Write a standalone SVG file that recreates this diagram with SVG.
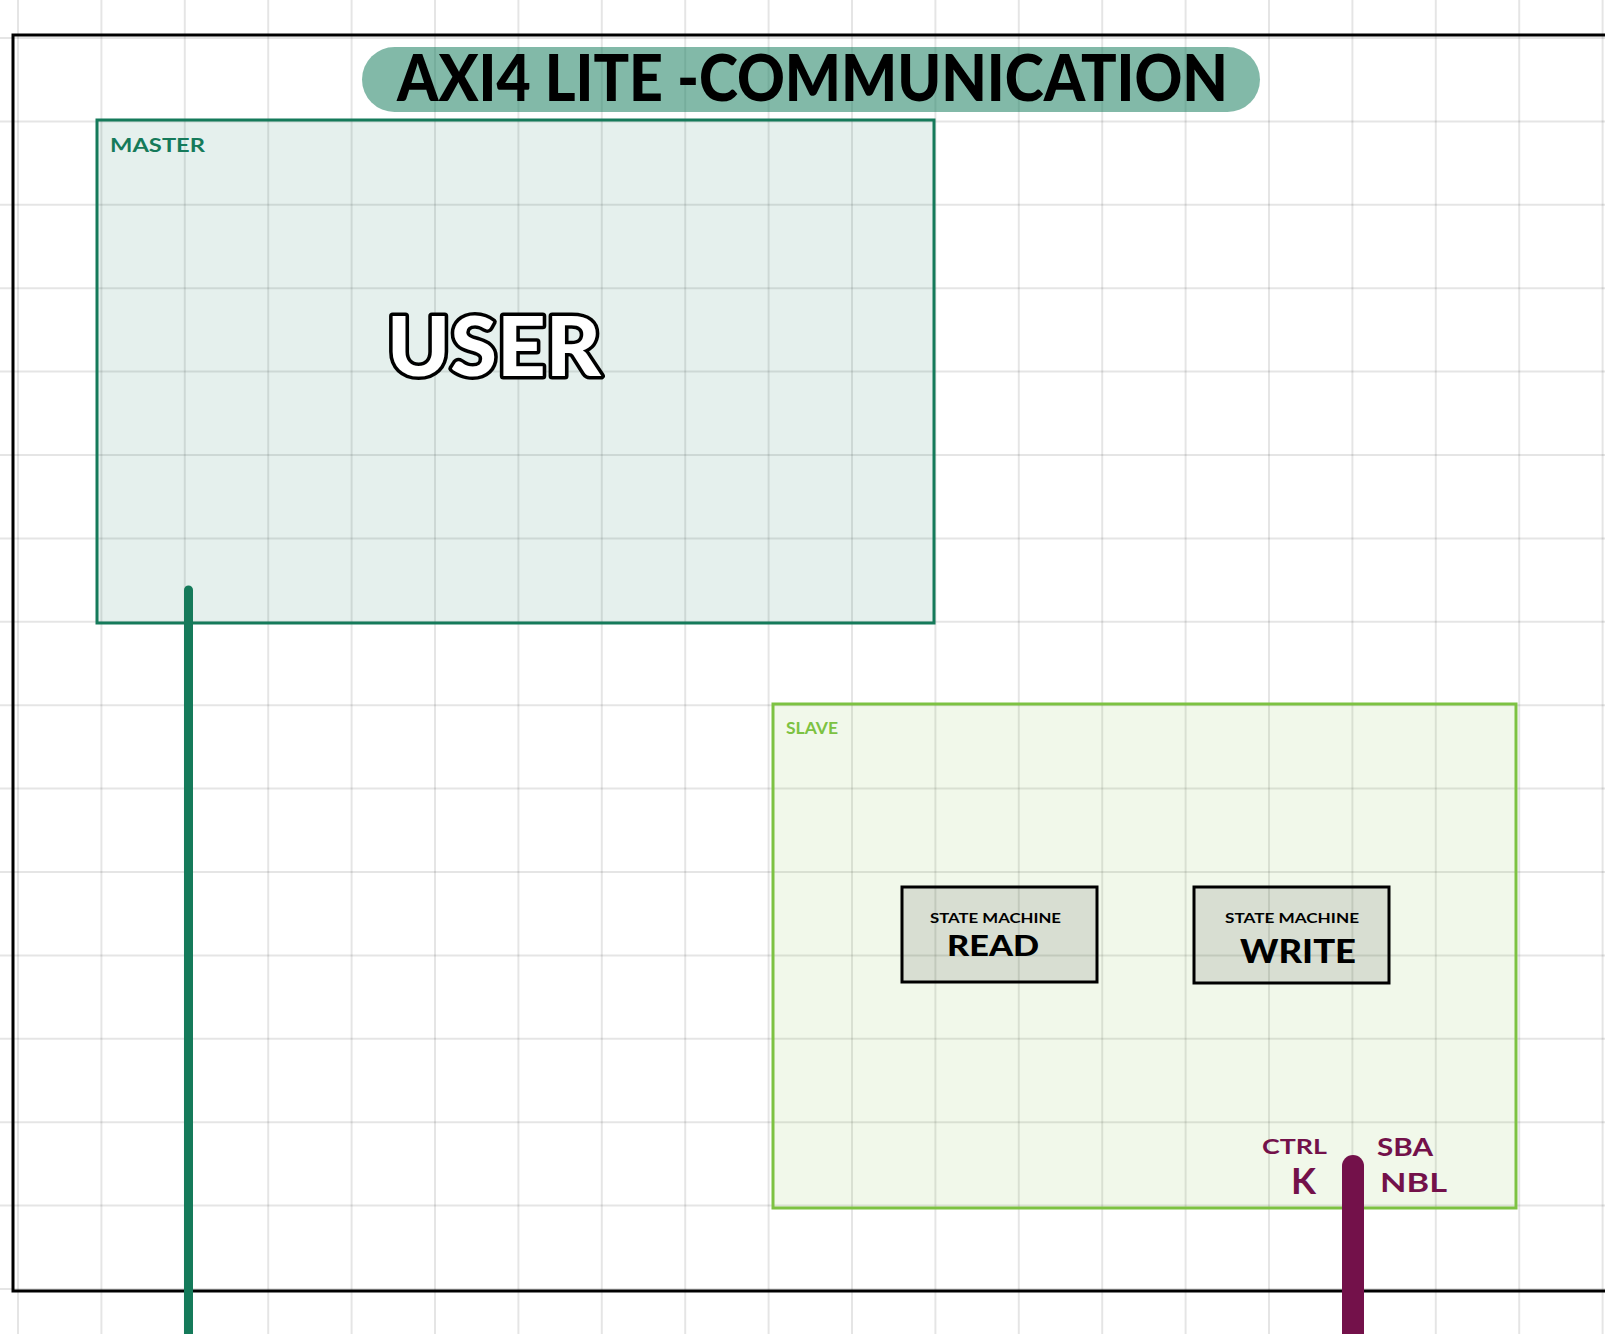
<svg xmlns="http://www.w3.org/2000/svg" width="1605" height="1334" viewBox="0 0 1605 1334">
<style>
.grid line{stroke:#000;stroke-opacity:0.1;stroke-width:2}
.hand{font-family:Lato,"Open Sans","Liberation Sans",sans-serif;font-weight:700}
.bubble{font-family:Lato,"Liberation Sans",sans-serif;font-weight:900}
.sm{fill:#000;fill-opacity:0.1;stroke:#000;stroke-width:3}
.purple{fill:#73114a}
</style>
<rect x="0" y="0" width="1605" height="1334" fill="#fff"/>
<g class="grid">
<line x1="18" y1="0" x2="18" y2="1334"/><line x1="101.4" y1="0" x2="101.4" y2="1334"/><line x1="184.8" y1="0" x2="184.8" y2="1334"/><line x1="268.2" y1="0" x2="268.2" y2="1334"/><line x1="351.6" y1="0" x2="351.6" y2="1334"/><line x1="435" y1="0" x2="435" y2="1334"/><line x1="518.4" y1="0" x2="518.4" y2="1334"/><line x1="601.8" y1="0" x2="601.8" y2="1334"/><line x1="685.2" y1="0" x2="685.2" y2="1334"/><line x1="768.6" y1="0" x2="768.6" y2="1334"/><line x1="852" y1="0" x2="852" y2="1334"/><line x1="935.4" y1="0" x2="935.4" y2="1334"/><line x1="1018.8" y1="0" x2="1018.8" y2="1334"/><line x1="1102.2" y1="0" x2="1102.2" y2="1334"/><line x1="1185.6" y1="0" x2="1185.6" y2="1334"/><line x1="1269" y1="0" x2="1269" y2="1334"/><line x1="1352.4" y1="0" x2="1352.4" y2="1334"/><line x1="1435.8" y1="0" x2="1435.8" y2="1334"/><line x1="1519.2" y1="0" x2="1519.2" y2="1334"/><line x1="1602.6" y1="0" x2="1602.6" y2="1334"/>
<line x1="0" y1="38" x2="1605" y2="38"/><line x1="0" y1="121.4" x2="1605" y2="121.4"/><line x1="0" y1="204.8" x2="1605" y2="204.8"/><line x1="0" y1="288.2" x2="1605" y2="288.2"/><line x1="0" y1="371.6" x2="1605" y2="371.6"/><line x1="0" y1="455" x2="1605" y2="455"/><line x1="0" y1="538.4" x2="1605" y2="538.4"/><line x1="0" y1="621.8" x2="1605" y2="621.8"/><line x1="0" y1="705.2" x2="1605" y2="705.2"/><line x1="0" y1="788.6" x2="1605" y2="788.6"/><line x1="0" y1="872" x2="1605" y2="872"/><line x1="0" y1="955.4" x2="1605" y2="955.4"/><line x1="0" y1="1038.8" x2="1605" y2="1038.8"/><line x1="0" y1="1122.2" x2="1605" y2="1122.2"/><line x1="0" y1="1205.6" x2="1605" y2="1205.6"/><line x1="0" y1="1289" x2="1605" y2="1289"/>
</g>
<rect id="frame" x="13" y="35" width="1600" height="1256" fill="none" stroke="#000" stroke-width="3"/>
<g id="title">
<rect x="362" y="47" width="898" height="65" rx="32.5" fill="#137a5a" fill-opacity="0.53"/>
<text class="bubble" x="397" y="101" font-size="64" textLength="831" lengthAdjust="spacingAndGlyphs" fill="#000">AXI4 LITE -COMMUNICATION</text>
</g>
<g id="master">
<rect x="97" y="120" width="837" height="503" fill="#157a5a" fill-opacity="0.11" stroke="#157a5a" stroke-width="3"/>
<text class="hand" x="110" y="152" font-size="19" fill="#157a5a" textLength="95" lengthAdjust="spacingAndGlyphs">MASTER</text>
<text class="bubble" x="387" y="376" font-size="82" fill="#fff" stroke="#000" stroke-width="7" paint-order="stroke" stroke-linejoin="round" textLength="214" lengthAdjust="spacingAndGlyphs">USER</text>
</g>
<g id="slave">
<rect x="773" y="704" width="743" height="504" fill="#7dc242" fill-opacity="0.11" stroke="#7dc242" stroke-width="3"/>
<text class="hand" x="786" y="734" font-size="17" fill="#7dc242" textLength="52" lengthAdjust="spacingAndGlyphs">SLAVE</text>
</g>
<g id="sm-read">
<rect class="sm" x="902" y="887" width="195" height="95"/>
<text class="hand" x="930" y="923" font-size="14" fill="#000" textLength="131" lengthAdjust="spacingAndGlyphs">STATE MACHINE</text>
<text class="bubble" x="947" y="956" font-size="29" fill="#000" textLength="92" lengthAdjust="spacingAndGlyphs">READ</text>
</g>
<g id="sm-write">
<rect class="sm" x="1194" y="887" width="195" height="96"/>
<text class="hand" x="1225" y="923" font-size="14" fill="#000" textLength="134" lengthAdjust="spacingAndGlyphs">STATE MACHINE</text>
<text class="bubble" x="1240" y="963" font-size="32" fill="#000" textLength="116" lengthAdjust="spacingAndGlyphs">WRITE</text>
</g>
<g id="connectors">
<line x1="188.5" y1="590" x2="188.5" y2="1340" stroke="#157a5a" stroke-width="9" stroke-linecap="round"/>
<line x1="1353" y1="1166" x2="1353" y2="1350" stroke="#73114a" stroke-width="22" stroke-linecap="round"/>
<text class="hand purple" x="1262" y="1154" font-size="21" textLength="65" lengthAdjust="spacingAndGlyphs">CTRL</text>
<text class="hand purple" x="1291" y="1194" font-size="36" font-weight="400" textLength="25" lengthAdjust="spacingAndGlyphs">K</text>
<text class="hand purple" x="1377" y="1156" font-size="24" textLength="56" lengthAdjust="spacingAndGlyphs">SBA</text>
<text class="hand purple" x="1380" y="1192" font-size="26" textLength="67" lengthAdjust="spacingAndGlyphs">NBL</text>
</g>
</svg>
